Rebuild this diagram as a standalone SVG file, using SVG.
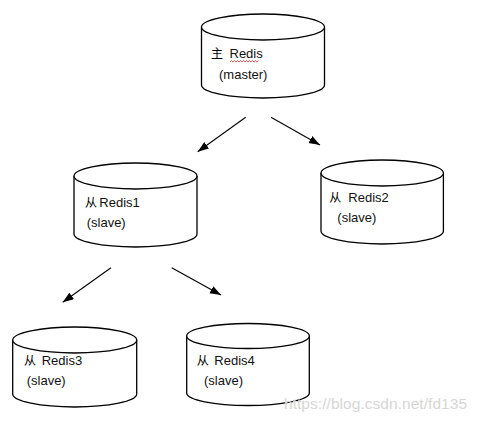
<svg xmlns="http://www.w3.org/2000/svg" width="478" height="422" viewBox="0 0 478 422">
<style>
.cyl{fill:#fff;stroke:#000;stroke-width:1.3}
.t{font-family:"Liberation Sans","Noto Sans CJK SC",sans-serif;font-size:13px;fill:#111}
.k{font-size:12px;fill:#000}
.c{stroke:#000;stroke-width:1.1;fill:none;marker-end:url(#ah)}
.wm{font-family:"Liberation Sans",Arial,sans-serif;font-size:15.5px;fill:#d6d6d6}
</style>
<defs>
<marker id="ah" markerUnits="userSpaceOnUse" markerWidth="12" markerHeight="10" refX="11" refY="4" orient="auto">
<path d="M0,0 L11,4 L0,8 Z" fill="#000"/>
</marker>
</defs>
<rect width="478" height="422" fill="#fff"/>
<g id="connectors">
<line class="c" x1="245.7" y1="117.3" x2="197.7" y2="151.7"/>
<line class="c" x1="271" y1="117.3" x2="320" y2="145"/>
<line class="c" x1="111" y1="267.7" x2="62.7" y2="302.3"/>
<line class="c" x1="171.7" y1="267.7" x2="221" y2="295"/>
</g>
<g id="master">
<path class="cyl" d="M201.5,27 L201.5,85 A61.5,13 0 0 0 324.5,85 L324.5,27"/>
<ellipse class="cyl" cx="263" cy="27" rx="61.5" ry="13"/>
<text class="t" y="58"><tspan class="k" x="211">主</tspan><tspan x="229.5">Redis</tspan></text>
<path d="M230,62 l1.5,-1.5 l1.5,1.5 l1.5,-1.5 l1.5,1.5 l1.5,-1.5 l1.5,1.5 l1.5,-1.5 l1.5,1.5 l1.5,-1.5 l1.5,1.5 l1.5,-1.5 l1.5,1.5 l1.5,-1.5 l1.5,1.5 l1.5,-1.5 l1.5,1.5 l1.5,-1.5 l1.5,1.5 l1.5,-1.5" fill="none" stroke="#e03030" stroke-width="0.8"/>
<text class="t" x="219" y="79">(master)</text>
</g>
<g id="slave1">
<path class="cyl" d="M74,176 L74,234 A61.5,13 0 0 0 197,234 L197,176"/>
<ellipse class="cyl" cx="135.5" cy="176" rx="61.5" ry="13"/>
<text class="t" y="207"><tspan class="k" x="85">从</tspan><tspan x="99.3">Redis1</tspan></text>
<text class="t" x="86.7" y="227">(slave)</text>
</g>
<g id="slave2">
<path class="cyl" d="M321,173 L321,231 A61.2,13 0 0 0 443.4,231 L443.4,173"/>
<ellipse class="cyl" cx="382.2" cy="173" rx="61.2" ry="13"/>
<text class="t" y="202"><tspan class="k" x="329.3">从</tspan><tspan x="348.3">Redis2</tspan></text>
<text class="t" x="337.3" y="222">(slave)</text>
</g>
<g id="slave3">
<path class="cyl" d="M12.7,340 L12.7,394 A62,13 0 0 0 136.7,394 L136.7,340"/>
<ellipse class="cyl" cx="74.7" cy="340" rx="62" ry="13"/>
<text class="t" y="365"><tspan class="k" x="24">从</tspan><tspan x="41.7">Redis3</tspan></text>
<text class="t" x="26.7" y="385">(slave)</text>
</g>
<g id="slave4">
<path class="cyl" d="M186.7,336 L186.7,393 A61.3,12.5 0 0 0 309.3,393 L309.3,336"/>
<ellipse class="cyl" cx="248" cy="336" rx="61.3" ry="12.5"/>
<text class="t" y="365"><tspan class="k" x="196.7">从</tspan><tspan x="214.3">Redis4</tspan></text>
<text class="t" x="204" y="385">(slave)</text>
</g>
<text class="wm" x="284" y="409" textLength="183">https://blog.csdn.net/fd135</text>
</svg>
